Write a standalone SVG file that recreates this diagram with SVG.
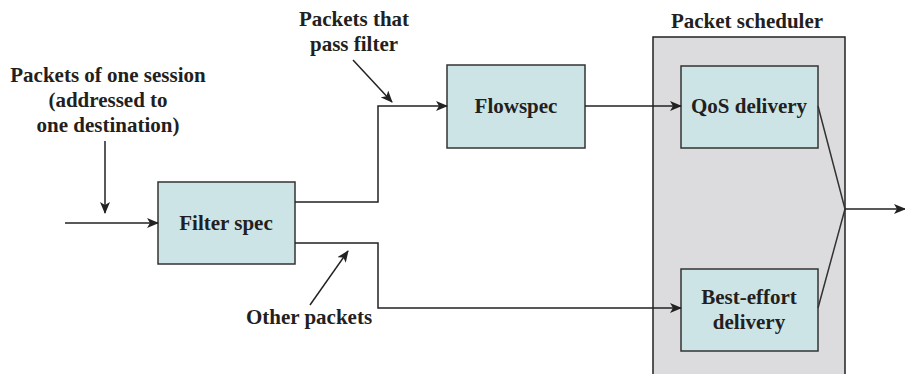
<svg xmlns="http://www.w3.org/2000/svg" width="905" height="374" viewBox="0 0 905 374">
<style>
text{font-family:'Liberation Serif','Times New Roman',Times,serif;font-weight:700;font-size:21px;fill:#231f20;text-anchor:middle}
.box{fill:#cde4e6;stroke:#333;stroke-width:1.5}
.sched{fill:#dcdcde;stroke:#222;stroke-width:1.5}
.ln{fill:none;stroke:#333;stroke-width:1.5}
.ar{fill:none;stroke:#222;stroke-width:1.5;marker-end:url(#ah)}
</style>
<defs>
<marker id="ah" viewBox="0 0 12 10" refX="11" refY="5" markerWidth="12" markerHeight="10" markerUnits="userSpaceOnUse" orient="auto">
<path d="M0,0 L12,5 L0,10 L3,5 Z" fill="#222"/>
</marker>
</defs>
<g id="scheduler">
<rect class="sched" x="653" y="37" width="192" height="345"/>
<text x="747" y="28">Packet scheduler</text>
</g>
<g id="filterspec">
<rect class="box" x="158" y="182" width="137" height="82"/>
<text x="226" y="230">Filter spec</text>
</g>
<g id="flowspec">
<rect class="box" x="447" y="65" width="138" height="83"/>
<text x="516" y="113">Flowspec</text>
</g>
<g id="qos">
<rect class="box" x="681" y="66" width="137" height="82"/>
<text x="749" y="113">QoS delivery</text>
</g>
<g id="besteffort">
<rect class="box" x="681" y="269" width="137" height="82"/>
<text x="749" y="304">Best-effort</text>
<text x="749" y="329">delivery</text>
</g>
<g id="labels">
<text x="108" y="82">Packets of one session</text>
<text x="108" y="107">(addressed to</text>
<text x="108" y="132">one destination)</text>
<text x="354" y="26">Packets that</text>
<text x="354" y="51">pass filter</text>
<text x="309" y="324">Other packets</text>
</g>
<g id="connectors">
<path class="ar" d="M65,223 H158"/>
<path class="ar" d="M105,141 V213"/>
<path class="ar" d="M295,202 H378 V106 H447"/>
<path class="ar" d="M295,243 H378 V308 H681"/>
<path class="ar" d="M585,106 H681"/>
<path class="ln" d="M818,106 L845,209 L818,308"/>
<path class="ar" d="M845,209 H905"/>
<path class="ar" d="M353,60 L392,102"/>
<path class="ar" d="M310,305 L348,251"/>
</g>
</svg>
